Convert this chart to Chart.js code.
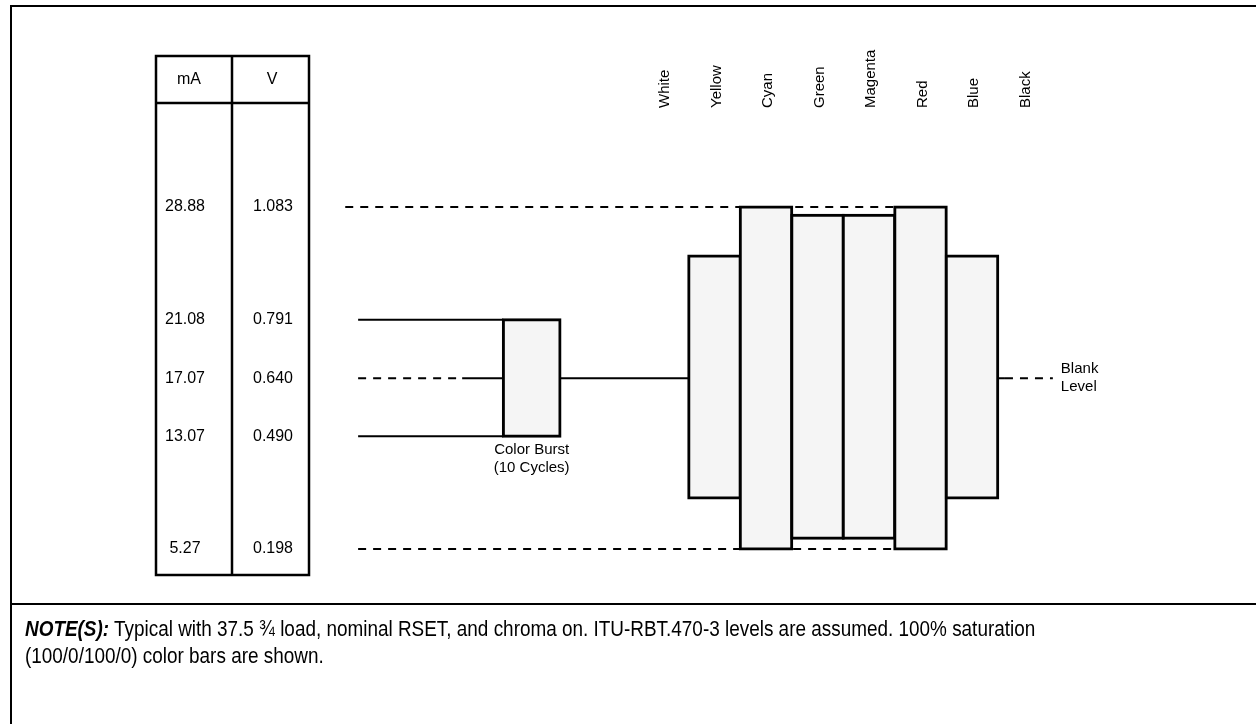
<!DOCTYPE html>
<html>
<head>
<meta charset="utf-8">
<script src="https://cdn.jsdelivr.net/npm/chart.js@4.4.1/dist/chart.umd.min.js"></script>
<style>
  html, body { margin: 0; padding: 0; background: #fff; }
  #wrap { position: relative; width: 1256px; height: 724px; overflow: hidden; }
  #frame { position: absolute; left: 10px; top: 5px; width: 1260px; height: 740px;
           border-left: 2px solid #000; border-top: 2px solid #000; }
  #sep { position: absolute; left: 10px; top: 603px; width: 1250px; height: 0;
         border-top: 2px solid #000; }
  #grafico { position: absolute; left: 0; top: 0; }
  #nota { position: absolute; left: 25px; top: 615px; width: 1500px;
          font-family: "Liberation Sans", Arial, sans-serif;
          font-size: 22px; line-height: 27px; color: #000;
          transform: scaleX(0.86); transform-origin: 0 0; white-space: nowrap; }
  #nota b { font-style: italic; }
</style>
</head>
<body>
<div id="wrap">
  <div id="frame"></div>
  <div id="sep"></div>
  <canvas id="grafico" width="1256" height="724"></canvas>
  <div id="nota"><b>NOTE(S):</b> Typical with 37.5 ¾ load, nominal RSET, and chroma on. ITU-RBT.470-3 levels are assumed. 100% saturation<br>(100/0/100/0) color bars are shown.</div>
</div>
<script>
// barras de cor (eixo x em "slots", White = 0)
const colorNames = ['White', 'Yellow', 'Cyan', 'Green', 'Magenta', 'Red', 'Blue', 'Black'];
const barLow  = [null, 0.330, 0.198, 0.226, 0.226, 0.198, 0.330, null];
const barHigh = [null, 0.956, 1.083, 1.062, 1.062, 1.083, 0.956, null];

// niveis da tabela
const levelsMA = ['28.88', '21.08', '17.07', '13.07', '5.27'];
const levelsV  = [1.083, 0.791, 0.640, 0.490, 0.198];
const blankLevel = 0.640;

// color burst
const burstSpan = [-3.1, -2.0];
const burstLevels = [0.490, 0.791];
const burstLeadIn = [-5.92, -3.9];      // inicio da linha, fim do tracejado
const peakSpan = [-6.17, 4.5];          // tracejado 1.083
const floorSpan = [-5.92, 4.5];         // tracejado 0.198
const blankTail = [6.5, 6.64, 7.57];    // depois do Blue

function seg(x0, x1, v) {
    return [{ x: x0, y: v }, { x: x1, y: v }];
}

function linha(data, dashed) {
    return {
        type: 'line',
        data: data,
        borderColor: '#000',
        borderWidth: 2,
        borderDash: dashed ? [8, 7] : [],
        pointRadius: 0,
        tension: 0,
        fill: false,
        order: 2
    };
}

const overlay = {
    id: 'overlay',
    afterDraw(chart) {
        const { ctx } = chart;
        const x = chart.scales.x;
        const y = chart.scales.y;
        ctx.save();
        ctx.strokeStyle = '#000';
        ctx.fillStyle = '#000';

        // tabela mA / V
        ctx.lineWidth = 2.5;
        ctx.strokeRect(156, 56, 153, 519);
        ctx.beginPath();
        ctx.moveTo(232, 56); ctx.lineTo(232, 575);
        ctx.moveTo(156, 103); ctx.lineTo(309, 103);
        ctx.stroke();

        ctx.font = '16px "Liberation Sans", Arial, sans-serif';
        ctx.textAlign = 'center';
        ctx.textBaseline = 'middle';
        ctx.fillText('mA', 189, 80);
        ctx.fillText('V', 272, 80);
        levelsV.forEach((v, i) => {
            const py = y.getPixelForValue(v);
            ctx.fillText(levelsMA[i], 185, py);
            ctx.fillText(v.toFixed(3), 273, py);
        });

        // nomes das barras (verticais)
        ctx.font = '15px "Liberation Sans", Arial, sans-serif';
        ctx.textAlign = 'left';
        colorNames.forEach((nome, i) => {
            ctx.save();
            ctx.translate(x.getPixelForValue(i) + 2, 108);
            ctx.rotate(-Math.PI / 2);
            ctx.fillText(nome, 0, 0);
            ctx.restore();
        });

        // legenda do burst
        ctx.textAlign = 'center';
        const bx = x.getPixelForValue((burstSpan[0] + burstSpan[1]) / 2);
        const by = y.getPixelForValue(burstLevels[0]);
        ctx.fillText('Color Burst', bx, by + 14);
        ctx.fillText('(10 Cycles)', bx, by + 32);

        // blank level
        ctx.textAlign = 'left';
        const ly = y.getPixelForValue(blankLevel);
        ctx.fillText('Blank', x.getPixelForValue(blankTail[2]) + 8, ly - 9);
        ctx.fillText('Level', x.getPixelForValue(blankTail[2]) + 8, ly + 9);
        ctx.restore();
    }
};

const barras = colorNames.map((n, i) => ({
    x: i,
    y: barLow[i] === null ? null : [barLow[i], barHigh[i]]
}));

new Chart(document.getElementById('grafico'), {
    type: 'bar',
    data: {
        datasets: [
            {
                type: 'bar',
                data: barras,
                backgroundColor: '#f5f5f5',
                borderColor: '#000',
                borderWidth: 3,
                borderSkipped: false,
                inflateAmount: 1.5,
                barPercentage: 1,
                categoryPercentage: 1,
                grouped: false,
                order: 0
            },
            {
                type: 'bar',
                data: [{ x: (burstSpan[0] + burstSpan[1]) / 2, y: burstLevels }],
                backgroundColor: '#f5f5f5',
                borderColor: '#000',
                borderWidth: 3,
                borderSkipped: false,
                inflateAmount: 1.5,
                barPercentage: burstSpan[1] - burstSpan[0],
                categoryPercentage: 1,
                grouped: false,
                order: 0
            },
            linha(seg(peakSpan[0], peakSpan[1], levelsV[0]), true),
            linha(seg(floorSpan[0], floorSpan[1], levelsV[4]), true),
            linha(seg(burstLeadIn[0], burstSpan[0], burstLevels[1]), false),
            linha(seg(burstLeadIn[0], burstSpan[0], burstLevels[0]), false),
            linha(seg(burstLeadIn[0], burstLeadIn[1], blankLevel), true),
            linha(seg(burstLeadIn[1], burstSpan[0], blankLevel), false),
            linha(seg(burstSpan[1], 0.5, blankLevel), false),
            linha(seg(blankTail[0], blankTail[1], blankLevel), false),
            linha(seg(blankTail[1], blankTail[2], blankLevel), true)
        ]
    },
    options: {
        responsive: false,
        animation: false,
        devicePixelRatio: 1,
        layout: {
            padding: { left: 302.5, right: 181, top: 161.8, bottom: 98.5 }
        },
        plugins: {
            legend: { display: false },
            tooltip: { enabled: false }
        },
        scales: {
            x: {
                type: 'linear',
                display: false,
                offset: false,
                min: -7,
                max: 8,
                ticks: { stepSize: 1 }
            },
            y: {
                type: 'linear',
                display: false,
                min: 0,
                max: 1.2
            }
        }
    },
    plugins: [overlay]
});
</script>
</body>
</html>
